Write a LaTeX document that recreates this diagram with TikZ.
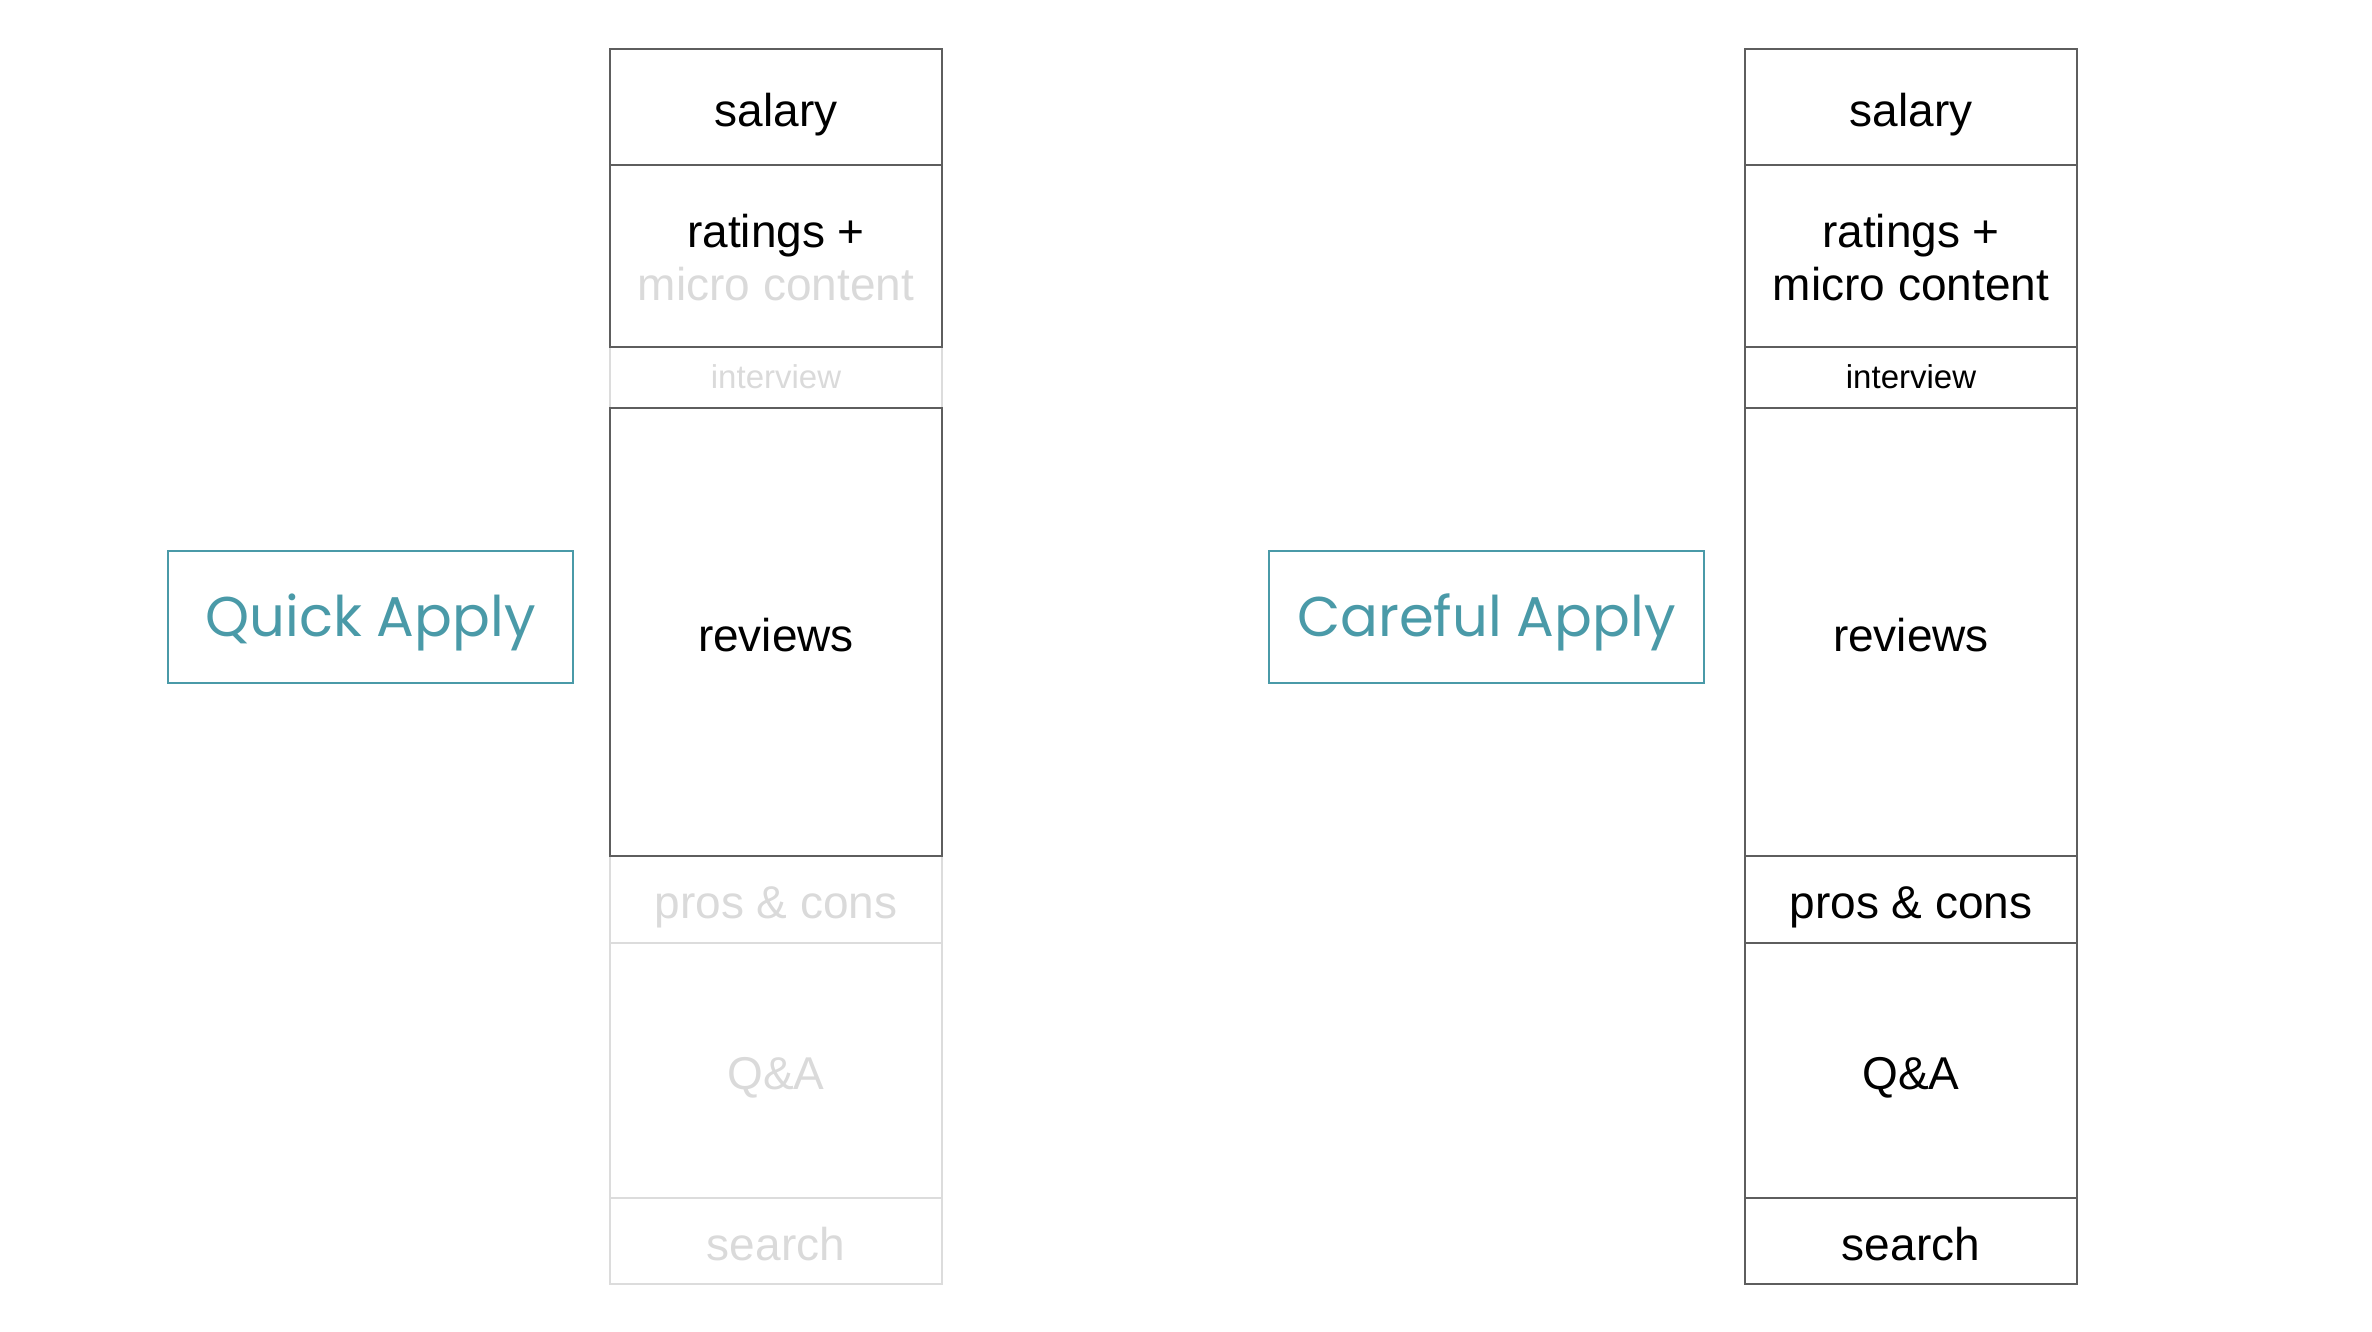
\documentclass[tikz,border=0pt]{standalone}
\usepackage{fontspec}
\setmainfont{Liberation Sans}
\newfontfamily\labelfont{Poppins}
\definecolor{tealc}{HTML}{4A9AA8}
\definecolor{darkln}{HTML}{5E5E5E}
\definecolor{lightln}{HTML}{DCDCDC}
\definecolor{lighttx}{HTML}{DADADA}
\tikzset{
  cellbase/.style={inner sep=0pt, outer sep=0pt, anchor=north west, minimum width=332pt, align=center, line width=2pt, font=\fontsize{46}{53}\selectfont, text height=34.5pt, text depth=10pt},
  darkcell/.style={cellbase, draw=darkln, text=black},
  lightcell/.style={cellbase, draw=lightln, text=lighttx},
  smalltext/.style={font=\fontsize{33}{36}\selectfont, text height=24.75pt, text depth=7.2pt},
  twoline/.style={text height=87.5pt, text depth=10pt},
  tbox/.style={draw=tealc, line width=2.5pt, text=tealc, inner sep=0pt, outer sep=0pt, anchor=north west, font=\labelfont\fontsize{56}{60}\selectfont, text height=39pt, text depth=0pt}
}
\begin{document}
\begin{tikzpicture}[x=1pt,y=-1pt]
\useasboundingbox (0,0) rectangle (2372,1332);
% left column (Quick Apply)
\node[lightcell, smalltext, minimum height=61pt] (qint) at (610,347) {\raisebox{-2pt}{interview}};
\node[lightcell, minimum height=87pt] (qpros) at (610,856) {\raisebox{-7pt}{pros \& cons}};
\node[lightcell, minimum height=255pt] (qqa) at (610,943) {\raisebox{-7pt}{Q\&A}};
\node[lightcell, minimum height=86pt] (qsearch) at (610,1198) {\raisebox{-7pt}{search}};
\node[darkcell, minimum height=116pt] (qsal) at (610,49) {\raisebox{-7pt}{salary}};
\node[darkcell, twoline, minimum height=182pt] (qrat) at (610,165) {\raisebox{-6pt}{ratings +}\\\raisebox{-6pt}{\textcolor{lighttx}{micro content}}};
\node[darkcell, minimum height=448pt] (qrev) at (610,408) {\raisebox{-7pt}{reviews}};
% right column (Careful Apply)
\node[darkcell, minimum height=116pt] (csal) at (1745,49) {\raisebox{-7pt}{salary}};
\node[darkcell, twoline, minimum height=182pt] (crat) at (1745,165) {\raisebox{-6pt}{ratings +}\\\raisebox{-6pt}{micro content}};
\node[darkcell, smalltext, minimum height=61pt] (cint) at (1745,347) {\raisebox{-2pt}{interview}};
\node[darkcell, minimum height=448pt] (crev) at (1745,408) {\raisebox{-7pt}{reviews}};
\node[darkcell, minimum height=87pt] (cpros) at (1745,856) {\raisebox{-7pt}{pros \& cons}};
\node[darkcell, minimum height=255pt] (cqa) at (1745,943) {\raisebox{-7pt}{Q\&A}};
\node[darkcell, minimum height=86pt] (csearch) at (1745,1198) {\raisebox{-7pt}{search}};
% labels
\node[tbox, minimum width=405pt, minimum height=132pt] (quick) at (168,551) {Quick Apply};
\node[tbox, minimum width=435pt, minimum height=132pt] (careful) at (1269,551) {Careful Apply};
\end{tikzpicture}
\end{document}
